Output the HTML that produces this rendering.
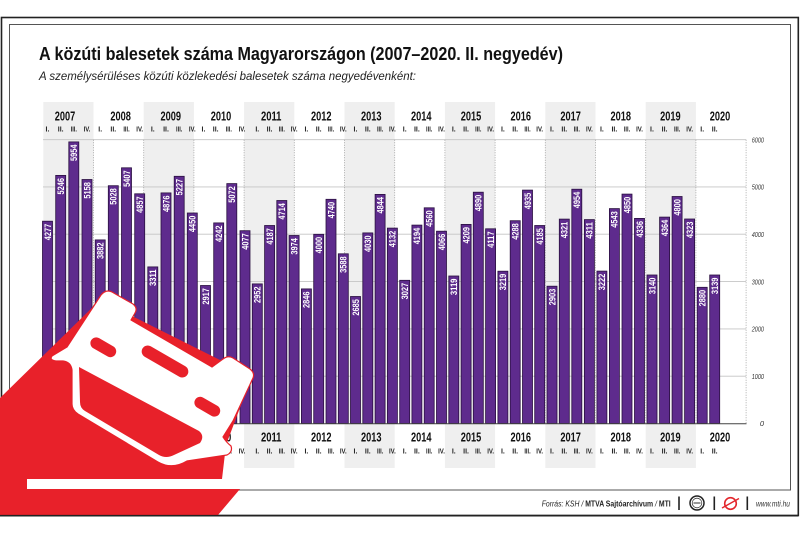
<!DOCTYPE html>
<html><head><meta charset="utf-8"><style>
html,body{margin:0;padding:0;background:#fff;}
svg{display:block;}
text{font-family:"Liberation Sans",Arial,sans-serif;}
</style></head><body>
<svg width="800" height="534" viewBox="0 0 800 534" xmlns="http://www.w3.org/2000/svg">
<rect x="0" y="0" width="800" height="534" fill="#fff"/>
<!-- frames -->
<rect x="1.5" y="17.5" width="796.8" height="498" fill="none" stroke="#222" stroke-width="1.6"/>
<rect x="9.5" y="24.5" width="781" height="465.5" fill="none" stroke="#555" stroke-width="1"/>

<!-- gray columns -->
<g fill="#efefef">
<rect x="43.3" y="102" width="50.2" height="366"/>
<rect x="143.7" y="102" width="50.2" height="366"/>
<rect x="244.1" y="102" width="50.2" height="366"/>
<rect x="344.5" y="102" width="50.2" height="366"/>
<rect x="444.9" y="102" width="50.2" height="366"/>
<rect x="545.3" y="102" width="50.2" height="366"/>
<rect x="645.7" y="102" width="50.2" height="366"/>
</g>

<!-- gridlines -->
<g stroke="#c4c4c4" stroke-width="0.9">
<line x1="43" y1="139.7" x2="746.1" y2="139.7"/>
<line x1="43" y1="186.95" x2="746.1" y2="186.95"/>
<line x1="43" y1="234.2" x2="746.1" y2="234.2"/>
<line x1="43" y1="281.6" x2="746.1" y2="281.6"/>
<line x1="43" y1="328.9" x2="746.1" y2="328.9"/>
<line x1="43" y1="376.2" x2="746.1" y2="376.2"/>
</g>
<g stroke="#9a9a9a" stroke-width="0.8" stroke-dasharray="1,1.5">
<line x1="93.5" y1="139.7" x2="93.5" y2="423.5"/>
<line x1="143.7" y1="139.7" x2="143.7" y2="423.5"/>
<line x1="193.9" y1="139.7" x2="193.9" y2="423.5"/>
<line x1="244.1" y1="139.7" x2="244.1" y2="423.5"/>
<line x1="294.3" y1="139.7" x2="294.3" y2="423.5"/>
<line x1="344.5" y1="139.7" x2="344.5" y2="423.5"/>
<line x1="394.7" y1="139.7" x2="394.7" y2="423.5"/>
<line x1="444.9" y1="139.7" x2="444.9" y2="423.5"/>
<line x1="495.1" y1="139.7" x2="495.1" y2="423.5"/>
<line x1="545.3" y1="139.7" x2="545.3" y2="423.5"/>
<line x1="595.5" y1="139.7" x2="595.5" y2="423.5"/>
<line x1="645.7" y1="139.7" x2="645.7" y2="423.5"/>
<line x1="695.9" y1="139.7" x2="695.9" y2="423.5"/>
<line x1="746.1" y1="139.7" x2="746.1" y2="423.5"/>
</g>

<!-- bars -->
<g fill="#5e2b8d" stroke="#2a1040" stroke-width="0.8">
<rect x="42.5" y="221.2" width="10" height="202.3"/>
<rect x="55.7" y="175.4" width="10" height="248.1"/>
<rect x="68.8" y="141.9" width="10" height="281.6"/>
<rect x="82.0" y="179.5" width="10" height="244.0"/>
<rect x="95.2" y="239.9" width="10" height="183.6"/>
<rect x="108.3" y="185.7" width="10" height="237.8"/>
<rect x="121.5" y="167.8" width="10" height="255.7"/>
<rect x="134.7" y="193.8" width="10" height="229.7"/>
<rect x="147.8" y="266.9" width="10" height="156.6"/>
<rect x="161.0" y="192.9" width="10" height="230.6"/>
<rect x="174.2" y="176.3" width="10" height="247.2"/>
<rect x="187.3" y="213.0" width="10" height="210.5"/>
<rect x="200.5" y="285.5" width="10" height="138.0"/>
<rect x="213.7" y="222.9" width="10" height="200.6"/>
<rect x="226.8" y="183.6" width="10" height="239.9"/>
<rect x="240.0" y="230.7" width="10" height="192.8"/>
<rect x="252.3" y="283.9" width="10" height="139.6"/>
<rect x="264.6" y="225.5" width="10" height="198.0"/>
<rect x="276.8" y="200.5" width="10" height="223.0"/>
<rect x="289.1" y="235.5" width="10" height="188.0"/>
<rect x="301.4" y="288.9" width="10" height="134.6"/>
<rect x="313.7" y="234.3" width="10" height="189.2"/>
<rect x="326.0" y="199.3" width="10" height="224.2"/>
<rect x="338.3" y="253.8" width="10" height="169.7"/>
<rect x="350.5" y="296.5" width="10" height="127.0"/>
<rect x="362.8" y="232.9" width="10" height="190.6"/>
<rect x="375.1" y="194.4" width="10" height="229.1"/>
<rect x="387.4" y="228.1" width="10" height="195.4"/>
<rect x="399.7" y="280.3" width="10" height="143.2"/>
<rect x="411.9" y="225.1" width="10" height="198.4"/>
<rect x="424.2" y="207.8" width="10" height="215.7"/>
<rect x="436.5" y="231.2" width="10" height="192.3"/>
<rect x="448.8" y="276.0" width="10" height="147.5"/>
<rect x="461.1" y="224.4" width="10" height="199.1"/>
<rect x="473.3" y="192.2" width="10" height="231.3"/>
<rect x="485.6" y="228.8" width="10" height="194.7"/>
<rect x="497.9" y="271.2" width="10" height="152.3"/>
<rect x="510.2" y="220.7" width="10" height="202.8"/>
<rect x="522.5" y="190.1" width="10" height="233.4"/>
<rect x="534.7" y="225.5" width="10" height="198.0"/>
<rect x="547.0" y="286.2" width="10" height="137.3"/>
<rect x="559.3" y="219.1" width="10" height="204.4"/>
<rect x="571.8" y="189.2" width="10" height="234.3"/>
<rect x="584.4" y="219.6" width="10" height="203.9"/>
<rect x="596.9" y="271.1" width="10" height="152.4"/>
<rect x="609.4" y="208.6" width="10" height="214.9"/>
<rect x="622.0" y="194.1" width="10" height="229.4"/>
<rect x="634.5" y="218.4" width="10" height="205.1"/>
<rect x="647.0" y="275.0" width="10" height="148.5"/>
<rect x="659.6" y="217.1" width="10" height="206.4"/>
<rect x="672.1" y="196.5" width="10" height="227.0"/>
<rect x="684.6" y="219.0" width="10" height="204.5"/>
<rect x="697.2" y="287.3" width="10" height="136.2"/>
<rect x="709.7" y="275.0" width="10" height="148.5"/>
</g>
<line x1="42" y1="423.8" x2="746.5" y2="423.8" stroke="#444" stroke-width="1"/>

<!-- bar value labels -->
<g fill="#fff" font-size="9" font-weight="bold" text-anchor="end">
<text transform="translate(50.8,223.8) rotate(-90)" textLength="16.5" lengthAdjust="spacingAndGlyphs">4277</text>
<text transform="translate(64.0,178.0) rotate(-90)" textLength="16.5" lengthAdjust="spacingAndGlyphs">5246</text>
<text transform="translate(77.1,144.5) rotate(-90)" textLength="16.5" lengthAdjust="spacingAndGlyphs">5954</text>
<text transform="translate(90.3,182.1) rotate(-90)" textLength="16.5" lengthAdjust="spacingAndGlyphs">5158</text>
<text transform="translate(103.5,242.5) rotate(-90)" textLength="16.5" lengthAdjust="spacingAndGlyphs">3882</text>
<text transform="translate(116.6,188.3) rotate(-90)" textLength="16.5" lengthAdjust="spacingAndGlyphs">5028</text>
<text transform="translate(129.8,170.4) rotate(-90)" textLength="16.5" lengthAdjust="spacingAndGlyphs">5407</text>
<text transform="translate(143.0,196.4) rotate(-90)" textLength="16.5" lengthAdjust="spacingAndGlyphs">4857</text>
<text transform="translate(156.1,269.5) rotate(-90)" textLength="16.5" lengthAdjust="spacingAndGlyphs">3311</text>
<text transform="translate(169.3,195.5) rotate(-90)" textLength="16.5" lengthAdjust="spacingAndGlyphs">4876</text>
<text transform="translate(182.5,178.9) rotate(-90)" textLength="16.5" lengthAdjust="spacingAndGlyphs">5227</text>
<text transform="translate(195.6,215.6) rotate(-90)" textLength="16.5" lengthAdjust="spacingAndGlyphs">4450</text>
<text transform="translate(208.8,288.1) rotate(-90)" textLength="16.5" lengthAdjust="spacingAndGlyphs">2917</text>
<text transform="translate(222.0,225.5) rotate(-90)" textLength="16.5" lengthAdjust="spacingAndGlyphs">4242</text>
<text transform="translate(235.1,186.2) rotate(-90)" textLength="16.5" lengthAdjust="spacingAndGlyphs">5072</text>
<text transform="translate(248.3,233.3) rotate(-90)" textLength="16.5" lengthAdjust="spacingAndGlyphs">4077</text>
<text transform="translate(260.6,286.5) rotate(-90)" textLength="16.5" lengthAdjust="spacingAndGlyphs">2952</text>
<text transform="translate(272.9,228.1) rotate(-90)" textLength="16.5" lengthAdjust="spacingAndGlyphs">4187</text>
<text transform="translate(285.1,203.1) rotate(-90)" textLength="16.5" lengthAdjust="spacingAndGlyphs">4714</text>
<text transform="translate(297.4,238.1) rotate(-90)" textLength="16.5" lengthAdjust="spacingAndGlyphs">3974</text>
<text transform="translate(309.7,291.5) rotate(-90)" textLength="16.5" lengthAdjust="spacingAndGlyphs">2846</text>
<text transform="translate(322.0,236.9) rotate(-90)" textLength="16.5" lengthAdjust="spacingAndGlyphs">4000</text>
<text transform="translate(334.3,201.9) rotate(-90)" textLength="16.5" lengthAdjust="spacingAndGlyphs">4740</text>
<text transform="translate(346.6,256.4) rotate(-90)" textLength="16.5" lengthAdjust="spacingAndGlyphs">3588</text>
<text transform="translate(358.8,299.1) rotate(-90)" textLength="16.5" lengthAdjust="spacingAndGlyphs">2685</text>
<text transform="translate(371.1,235.5) rotate(-90)" textLength="16.5" lengthAdjust="spacingAndGlyphs">4030</text>
<text transform="translate(383.4,197.0) rotate(-90)" textLength="16.5" lengthAdjust="spacingAndGlyphs">4844</text>
<text transform="translate(395.7,230.7) rotate(-90)" textLength="16.5" lengthAdjust="spacingAndGlyphs">4132</text>
<text transform="translate(408.0,282.9) rotate(-90)" textLength="16.5" lengthAdjust="spacingAndGlyphs">3027</text>
<text transform="translate(420.2,227.7) rotate(-90)" textLength="16.5" lengthAdjust="spacingAndGlyphs">4194</text>
<text transform="translate(432.5,210.4) rotate(-90)" textLength="16.5" lengthAdjust="spacingAndGlyphs">4560</text>
<text transform="translate(444.8,233.8) rotate(-90)" textLength="16.5" lengthAdjust="spacingAndGlyphs">4066</text>
<text transform="translate(457.1,278.6) rotate(-90)" textLength="16.5" lengthAdjust="spacingAndGlyphs">3119</text>
<text transform="translate(469.4,227.0) rotate(-90)" textLength="16.5" lengthAdjust="spacingAndGlyphs">4209</text>
<text transform="translate(481.6,194.8) rotate(-90)" textLength="16.5" lengthAdjust="spacingAndGlyphs">4890</text>
<text transform="translate(493.9,231.4) rotate(-90)" textLength="16.5" lengthAdjust="spacingAndGlyphs">4117</text>
<text transform="translate(506.2,273.8) rotate(-90)" textLength="16.5" lengthAdjust="spacingAndGlyphs">3219</text>
<text transform="translate(518.5,223.3) rotate(-90)" textLength="16.5" lengthAdjust="spacingAndGlyphs">4288</text>
<text transform="translate(530.8,192.7) rotate(-90)" textLength="16.5" lengthAdjust="spacingAndGlyphs">4935</text>
<text transform="translate(543.0,228.1) rotate(-90)" textLength="16.5" lengthAdjust="spacingAndGlyphs">4185</text>
<text transform="translate(555.3,288.8) rotate(-90)" textLength="16.5" lengthAdjust="spacingAndGlyphs">2903</text>
<text transform="translate(567.6,221.7) rotate(-90)" textLength="16.5" lengthAdjust="spacingAndGlyphs">4321</text>
<text transform="translate(580.1,191.8) rotate(-90)" textLength="16.5" lengthAdjust="spacingAndGlyphs">4954</text>
<text transform="translate(592.7,222.2) rotate(-90)" textLength="16.5" lengthAdjust="spacingAndGlyphs">4311</text>
<text transform="translate(605.2,273.7) rotate(-90)" textLength="16.5" lengthAdjust="spacingAndGlyphs">3222</text>
<text transform="translate(617.7,211.2) rotate(-90)" textLength="16.5" lengthAdjust="spacingAndGlyphs">4543</text>
<text transform="translate(630.3,196.7) rotate(-90)" textLength="16.5" lengthAdjust="spacingAndGlyphs">4850</text>
<text transform="translate(642.8,221.0) rotate(-90)" textLength="16.5" lengthAdjust="spacingAndGlyphs">4336</text>
<text transform="translate(655.3,277.6) rotate(-90)" textLength="16.5" lengthAdjust="spacingAndGlyphs">3140</text>
<text transform="translate(667.9,219.7) rotate(-90)" textLength="16.5" lengthAdjust="spacingAndGlyphs">4364</text>
<text transform="translate(680.4,199.1) rotate(-90)" textLength="16.5" lengthAdjust="spacingAndGlyphs">4800</text>
<text transform="translate(692.9,221.6) rotate(-90)" textLength="16.5" lengthAdjust="spacingAndGlyphs">4323</text>
<text transform="translate(705.5,289.9) rotate(-90)" textLength="16.5" lengthAdjust="spacingAndGlyphs">2880</text>
<text transform="translate(718.0,277.6) rotate(-90)" textLength="16.5" lengthAdjust="spacingAndGlyphs">3139</text>
</g>

<!-- year labels top & bottom -->
<g fill="#111" font-size="12.5" font-weight="bold" text-anchor="middle">
<text x="65" y="120.7" textLength="20.5" lengthAdjust="spacingAndGlyphs">2007</text>
<text x="120.6" y="120.7" textLength="20.5" lengthAdjust="spacingAndGlyphs">2008</text>
<text x="170.8" y="120.7" textLength="20.5" lengthAdjust="spacingAndGlyphs">2009</text>
<text x="221" y="120.7" textLength="20.5" lengthAdjust="spacingAndGlyphs">2010</text>
<text x="271.2" y="120.7" textLength="20.5" lengthAdjust="spacingAndGlyphs">2011</text>
<text x="321.2" y="120.7" textLength="20.5" lengthAdjust="spacingAndGlyphs">2012</text>
<text x="371.2" y="120.7" textLength="20.5" lengthAdjust="spacingAndGlyphs">2013</text>
<text x="421.2" y="120.7" textLength="20.5" lengthAdjust="spacingAndGlyphs">2014</text>
<text x="471" y="120.7" textLength="20.5" lengthAdjust="spacingAndGlyphs">2015</text>
<text x="520.8" y="120.7" textLength="20.5" lengthAdjust="spacingAndGlyphs">2016</text>
<text x="570.6" y="120.7" textLength="20.5" lengthAdjust="spacingAndGlyphs">2017</text>
<text x="620.8" y="120.7" textLength="20.5" lengthAdjust="spacingAndGlyphs">2018</text>
<text x="670.4" y="120.7" textLength="20.5" lengthAdjust="spacingAndGlyphs">2019</text>
<text x="720" y="120.7" textLength="20.5" lengthAdjust="spacingAndGlyphs">2020</text>

<text x="65" y="441.7" textLength="20.5" lengthAdjust="spacingAndGlyphs">2007</text>
<text x="120.6" y="441.7" textLength="20.5" lengthAdjust="spacingAndGlyphs">2008</text>
<text x="170.8" y="441.7" textLength="20.5" lengthAdjust="spacingAndGlyphs">2009</text>
<text x="221" y="441.7" textLength="20.5" lengthAdjust="spacingAndGlyphs">2010</text>
<text x="271.2" y="441.7" textLength="20.5" lengthAdjust="spacingAndGlyphs">2011</text>
<text x="321.2" y="441.7" textLength="20.5" lengthAdjust="spacingAndGlyphs">2012</text>
<text x="371.2" y="441.7" textLength="20.5" lengthAdjust="spacingAndGlyphs">2013</text>
<text x="421.2" y="441.7" textLength="20.5" lengthAdjust="spacingAndGlyphs">2014</text>
<text x="471" y="441.7" textLength="20.5" lengthAdjust="spacingAndGlyphs">2015</text>
<text x="520.8" y="441.7" textLength="20.5" lengthAdjust="spacingAndGlyphs">2016</text>
<text x="570.6" y="441.7" textLength="20.5" lengthAdjust="spacingAndGlyphs">2017</text>
<text x="620.8" y="441.7" textLength="20.5" lengthAdjust="spacingAndGlyphs">2018</text>
<text x="670.4" y="441.7" textLength="20.5" lengthAdjust="spacingAndGlyphs">2019</text>
<text x="720" y="441.7" textLength="20.5" lengthAdjust="spacingAndGlyphs">2020</text>
</g>

<!-- quarter labels top -->
<g fill="#222" font-size="7" font-weight="bold" text-anchor="middle">
<text x="47.5" y="131.7">I.</text><text x="60.7" y="131.7">II.</text><text x="73.8" y="131.7" textLength="6.3" lengthAdjust="spacingAndGlyphs">III.</text><text x="87.0" y="131.7" textLength="6.8" lengthAdjust="spacingAndGlyphs">IV.</text>
<text x="100.2" y="131.7">I.</text><text x="113.3" y="131.7">II.</text><text x="126.5" y="131.7" textLength="6.3" lengthAdjust="spacingAndGlyphs">III.</text><text x="139.7" y="131.7" textLength="6.8" lengthAdjust="spacingAndGlyphs">IV.</text>
<text x="152.8" y="131.7">I.</text><text x="166.0" y="131.7">II.</text><text x="179.2" y="131.7" textLength="6.3" lengthAdjust="spacingAndGlyphs">III.</text><text x="192.3" y="131.7" textLength="6.8" lengthAdjust="spacingAndGlyphs">IV.</text>
<text x="203.5" y="131.7">I.</text><text x="215.7" y="131.7">II.</text><text x="228.8" y="131.7" textLength="6.3" lengthAdjust="spacingAndGlyphs">III.</text><text x="242.0" y="131.7" textLength="6.8" lengthAdjust="spacingAndGlyphs">IV.</text>
<text x="257.3" y="131.7">I.</text><text x="269.6" y="131.7">II.</text><text x="281.8" y="131.7" textLength="6.3" lengthAdjust="spacingAndGlyphs">III.</text><text x="294.1" y="131.7" textLength="6.8" lengthAdjust="spacingAndGlyphs">IV.</text>
<text x="306.4" y="131.7">I.</text><text x="318.7" y="131.7">II.</text><text x="331.0" y="131.7" textLength="6.3" lengthAdjust="spacingAndGlyphs">III.</text><text x="343.3" y="131.7" textLength="6.8" lengthAdjust="spacingAndGlyphs">IV.</text>
<text x="355.5" y="131.7">I.</text><text x="367.8" y="131.7">II.</text><text x="380.1" y="131.7" textLength="6.3" lengthAdjust="spacingAndGlyphs">III.</text><text x="392.4" y="131.7" textLength="6.8" lengthAdjust="spacingAndGlyphs">IV.</text>
<text x="404.7" y="131.7">I.</text><text x="416.9" y="131.7">II.</text><text x="429.2" y="131.7" textLength="6.3" lengthAdjust="spacingAndGlyphs">III.</text><text x="441.5" y="131.7" textLength="6.8" lengthAdjust="spacingAndGlyphs">IV.</text>
<text x="453.8" y="131.7">I.</text><text x="466.1" y="131.7">II.</text><text x="478.3" y="131.7" textLength="6.3" lengthAdjust="spacingAndGlyphs">III.</text><text x="490.6" y="131.7" textLength="6.8" lengthAdjust="spacingAndGlyphs">IV.</text>
<text x="502.9" y="131.7">I.</text><text x="515.2" y="131.7">II.</text><text x="527.5" y="131.7" textLength="6.3" lengthAdjust="spacingAndGlyphs">III.</text><text x="539.7" y="131.7" textLength="6.8" lengthAdjust="spacingAndGlyphs">IV.</text>
<text x="552.0" y="131.7">I.</text><text x="564.3" y="131.7">II.</text><text x="576.8" y="131.7" textLength="6.3" lengthAdjust="spacingAndGlyphs">III.</text><text x="589.4" y="131.7" textLength="6.8" lengthAdjust="spacingAndGlyphs">IV.</text>
<text x="601.9" y="131.7">I.</text><text x="614.4" y="131.7">II.</text><text x="627.0" y="131.7" textLength="6.3" lengthAdjust="spacingAndGlyphs">III.</text><text x="639.5" y="131.7" textLength="6.8" lengthAdjust="spacingAndGlyphs">IV.</text>
<text x="652.0" y="131.7">I.</text><text x="664.6" y="131.7">II.</text><text x="677.1" y="131.7" textLength="6.3" lengthAdjust="spacingAndGlyphs">III.</text><text x="689.6" y="131.7" textLength="6.8" lengthAdjust="spacingAndGlyphs">IV.</text>
<text x="702.2" y="131.7">I.</text><text x="714.7" y="131.7">II.</text>
</g>
<!-- quarter labels bottom -->
<g fill="#222" font-size="7" font-weight="bold" text-anchor="middle">
<text x="47.5" y="453.5">I.</text><text x="60.7" y="453.5">II.</text><text x="73.8" y="453.5" textLength="6.3" lengthAdjust="spacingAndGlyphs">III.</text><text x="87.0" y="453.5" textLength="6.8" lengthAdjust="spacingAndGlyphs">IV.</text>
<text x="100.2" y="453.5">I.</text><text x="113.3" y="453.5">II.</text><text x="126.5" y="453.5" textLength="6.3" lengthAdjust="spacingAndGlyphs">III.</text><text x="139.7" y="453.5" textLength="6.8" lengthAdjust="spacingAndGlyphs">IV.</text>
<text x="152.8" y="453.5">I.</text><text x="166.0" y="453.5">II.</text><text x="179.2" y="453.5" textLength="6.3" lengthAdjust="spacingAndGlyphs">III.</text><text x="192.3" y="453.5" textLength="6.8" lengthAdjust="spacingAndGlyphs">IV.</text>
<text x="203.5" y="453.5">I.</text><text x="215.7" y="453.5">II.</text><text x="228.8" y="453.5" textLength="6.3" lengthAdjust="spacingAndGlyphs">III.</text><text x="242.0" y="453.5" textLength="6.8" lengthAdjust="spacingAndGlyphs">IV.</text>
<text x="257.3" y="453.5">I.</text><text x="269.6" y="453.5">II.</text><text x="281.8" y="453.5" textLength="6.3" lengthAdjust="spacingAndGlyphs">III.</text><text x="294.1" y="453.5" textLength="6.8" lengthAdjust="spacingAndGlyphs">IV.</text>
<text x="306.4" y="453.5">I.</text><text x="318.7" y="453.5">II.</text><text x="331.0" y="453.5" textLength="6.3" lengthAdjust="spacingAndGlyphs">III.</text><text x="343.3" y="453.5" textLength="6.8" lengthAdjust="spacingAndGlyphs">IV.</text>
<text x="355.5" y="453.5">I.</text><text x="367.8" y="453.5">II.</text><text x="380.1" y="453.5" textLength="6.3" lengthAdjust="spacingAndGlyphs">III.</text><text x="392.4" y="453.5" textLength="6.8" lengthAdjust="spacingAndGlyphs">IV.</text>
<text x="404.7" y="453.5">I.</text><text x="416.9" y="453.5">II.</text><text x="429.2" y="453.5" textLength="6.3" lengthAdjust="spacingAndGlyphs">III.</text><text x="441.5" y="453.5" textLength="6.8" lengthAdjust="spacingAndGlyphs">IV.</text>
<text x="453.8" y="453.5">I.</text><text x="466.1" y="453.5">II.</text><text x="478.3" y="453.5" textLength="6.3" lengthAdjust="spacingAndGlyphs">III.</text><text x="490.6" y="453.5" textLength="6.8" lengthAdjust="spacingAndGlyphs">IV.</text>
<text x="502.9" y="453.5">I.</text><text x="515.2" y="453.5">II.</text><text x="527.5" y="453.5" textLength="6.3" lengthAdjust="spacingAndGlyphs">III.</text><text x="539.7" y="453.5" textLength="6.8" lengthAdjust="spacingAndGlyphs">IV.</text>
<text x="552.0" y="453.5">I.</text><text x="564.3" y="453.5">II.</text><text x="576.8" y="453.5" textLength="6.3" lengthAdjust="spacingAndGlyphs">III.</text><text x="589.4" y="453.5" textLength="6.8" lengthAdjust="spacingAndGlyphs">IV.</text>
<text x="601.9" y="453.5">I.</text><text x="614.4" y="453.5">II.</text><text x="627.0" y="453.5" textLength="6.3" lengthAdjust="spacingAndGlyphs">III.</text><text x="639.5" y="453.5" textLength="6.8" lengthAdjust="spacingAndGlyphs">IV.</text>
<text x="652.0" y="453.5">I.</text><text x="664.6" y="453.5">II.</text><text x="677.1" y="453.5" textLength="6.3" lengthAdjust="spacingAndGlyphs">III.</text><text x="689.6" y="453.5" textLength="6.8" lengthAdjust="spacingAndGlyphs">IV.</text>
<text x="702.2" y="453.5">I.</text><text x="714.7" y="453.5">II.</text>
</g>

<!-- y axis labels -->
<g fill="#333" font-size="7.5" font-style="italic" text-anchor="end">
<text x="764" y="142.4" textLength="12.3" lengthAdjust="spacingAndGlyphs">6000</text>
<text x="764" y="189.6" textLength="12.3" lengthAdjust="spacingAndGlyphs">5000</text>
<text x="764" y="236.9" textLength="12.3" lengthAdjust="spacingAndGlyphs">4000</text>
<text x="764" y="284.3" textLength="12.3" lengthAdjust="spacingAndGlyphs">3000</text>
<text x="764" y="331.6" textLength="12.3" lengthAdjust="spacingAndGlyphs">2000</text>
<text x="764" y="378.9" textLength="12.3" lengthAdjust="spacingAndGlyphs">1000</text>
<text x="764" y="426.2">0</text>
</g>

<!-- title -->
<text x="39" y="60" font-size="18.5" font-weight="bold" fill="#111" textLength="524" lengthAdjust="spacingAndGlyphs">A közúti balesetek száma Magyarországon (2007–2020. II. negyedév)</text>
<text x="39" y="80" font-size="12" font-style="italic" fill="#222" textLength="377" lengthAdjust="spacingAndGlyphs">A személysérüléses közúti közlekedési balesetek száma negyedévenként:</text>

<!-- footer -->
<text x="541.7" y="506.3" font-size="8.5" fill="#222" textLength="129" lengthAdjust="spacingAndGlyphs"><tspan font-style="italic">Forrás: KSH / </tspan><tspan font-weight="bold">MTVA Sajtóarchívum</tspan><tspan font-style="italic"> / </tspan><tspan font-weight="bold">MTI</tspan></text>
<g stroke="#222" stroke-width="1.6">
<line x1="679" y1="496.5" x2="679" y2="510"/>
<line x1="714.3" y1="496.5" x2="714.3" y2="510"/>
<line x1="747.3" y1="496.5" x2="747.3" y2="510"/>
</g>
<circle cx="697" cy="503" r="7" fill="#fff" stroke="#222" stroke-width="1.5"/>
<circle cx="697" cy="503" r="4.8" fill="#fff" stroke="#444" stroke-width="0.8"/>
<line x1="693.5" y1="503" x2="700.5" y2="503" stroke="#555" stroke-width="1.2"/>
<circle cx="730.5" cy="503.5" r="5.8" fill="none" stroke="#e3262c" stroke-width="1.6"/>
<line x1="722" y1="508" x2="739" y2="498.5" stroke="#e3262c" stroke-width="1.4"/>
<text x="756" y="506.3" font-size="8.5" font-style="italic" fill="#333" textLength="34" lengthAdjust="spacingAndGlyphs">www.mti.hu</text>

<!-- red graphic -->
<polygon points="0,398 100,300 252,376 226,445 222,479 240,489 218,515 0,515" fill="#e8212a"/>
<rect x="27" y="479" width="218" height="10" fill="#fff"/>
<line x1="0" y1="515.7" x2="798.3" y2="515.7" stroke="#222" stroke-width="1.6"/>

<!-- car -->
<path d="M52,356 L67,347 L101,295 Q106,289 112,292 L133,304 Q138,308 135,313 L131,320 L212,367 L223,359 Q228,355 233,358 L250,369 Q255,373 253,378 L233,421 L223,437 Q226,442 231,446 Q233,452 227,455 L187,461 Q172,470 158,462 L78,414 Q72,410 72,404 L72,370 Q71,362 63,361 L56,361 Q49,360 52,356 Z" fill="#fff" stroke="#e8212a" stroke-width="1.2" stroke-linejoin="round"/>
<g fill="#e8212a">
<path d="M79,367 L199,431 Q205,436 200,443 L174,455 Q166,459 159,455 L85,411 Q80,408 80,402 Z"/>
<rect x="-14" y="-5.8" width="28" height="11.6" rx="5.8" transform="translate(103.3,347.3) rotate(30)"/>
<rect x="-26" y="-6" width="52" height="12" rx="6" transform="translate(165,361.5) rotate(30)"/>
<rect x="-14" y="-5.8" width="28" height="11.6" rx="5.8" transform="translate(207.3,406.7) rotate(30)"/>
</g>
</svg>
</body></html>
